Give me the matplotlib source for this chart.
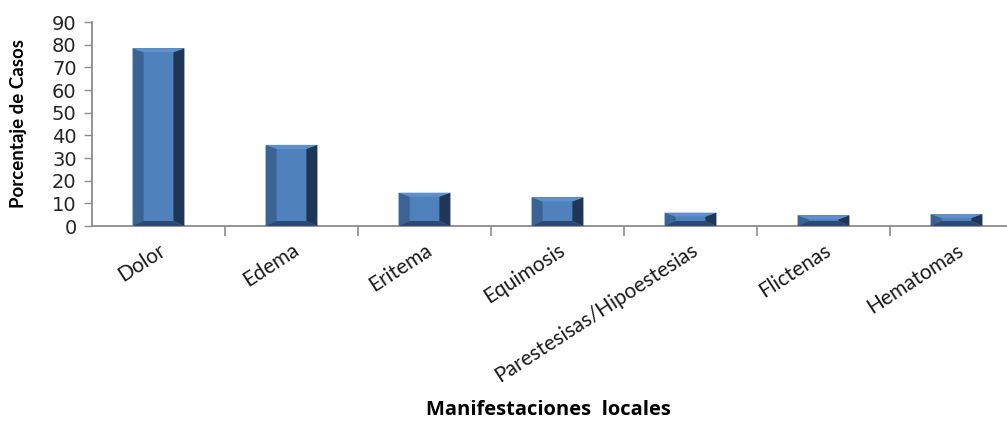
import matplotlib
matplotlib.use("Agg")
import matplotlib.pyplot as plt
from matplotlib.patches import Polygon
import numpy as np

categories = ["Dolor", "Edema", "Eritema", "Equimosis",
              "Parestesisas/Hipoestesias", "Flictenas", "Hematomas"]
values = [78.4, 35.8, 14.7, 12.6, 5.9, 4.7, 5.3]
yticks = list(range(0, 100, 10))

fig = plt.figure(figsize=(10.07, 4.22), dpi=100)
ax = fig.add_axes([92/1007, (422-226)/422, 1 - 92/1007, (226-22)/422])

x = np.arange(len(categories))
w = 0.39
face = "#4f81bd"
bars = ax.bar(x, values, width=w, color=face, edgecolor="none", zorder=2)

# bevel decoration derived from each bar
bx = 0.083          # horizontal bevel in data units
by = 2.2            # vertical bevel in data units
for xi, v in zip(x, values):
    l, r = xi - w/2, xi + w/2
    d = min(by, v/2)
    dx = bx
    ax.add_patch(Polygon([(l, 0), (l+dx, d), (l+dx, v-d*0.8), (l, v)],
                         closed=True, color="#3b6394", lw=0, zorder=3))
    ax.add_patch(Polygon([(r, 0), (r-dx, d), (r-dx, v-d*0.8), (r, v)],
                         closed=True, color="#1f3657", lw=0, zorder=3))
    ax.add_patch(Polygon([(l, 0), (r, 0), (r-dx, d), (l+dx, d)],
                         closed=True, color="#2b4a73", lw=0, zorder=3))
    ax.add_patch(Polygon([(l, v), (r, v), (r-dx, v-d*0.8), (l+dx, v-d*0.8)],
                         closed=True, color="#5f8fcc", lw=0, zorder=3))

ax.set_yticks(yticks)
ax.set_yticklabels([str(t) for t in yticks], fontsize=14, color="#262626",
                   family="DejaVu Sans")
ax.set_xticks(x)
ax.set_xticklabels(categories, rotation=33, ha="right", rotation_mode="anchor",
                   fontsize=15, family="Lato", color="#1a1a1a")
ax.set_xticks(np.arange(len(categories) - 1) + 0.5, minor=True)
ax.tick_params(axis="x", which="major", length=0, pad=10)
ax.tick_params(axis="x", which="minor", length=7, width=1.2, color="#8c8c8c",
               direction="out")
ax.tick_params(axis="y", which="major", length=6, width=1.0, color="#8c8c8c",
               direction="out", pad=5)
ax.set_ylim(0, 90)
ax.set_xlim(-0.5, (1007-92)/133 - 0.5)

for s in ["top", "right"]:
    ax.spines[s].set_visible(False)
for s in ["left", "bottom"]:
    ax.spines[s].set_color("#8c8c8c")
    ax.spines[s].set_linewidth(1.3)

ax.set_ylabel("Porcentaje de Casos", fontsize=13.5, fontweight="bold",
              family="Lato", color="#000000", va="center")
ax.yaxis.set_label_coords((19-92)/915, 0.5)
fig.text(548/1007, 1 - 410/422, "Manifestaciones  locales", ha="center",
         va="center", fontsize=14.5, fontweight="bold", family="Open Sans")

fig.savefig("out.png", dpi=100)
